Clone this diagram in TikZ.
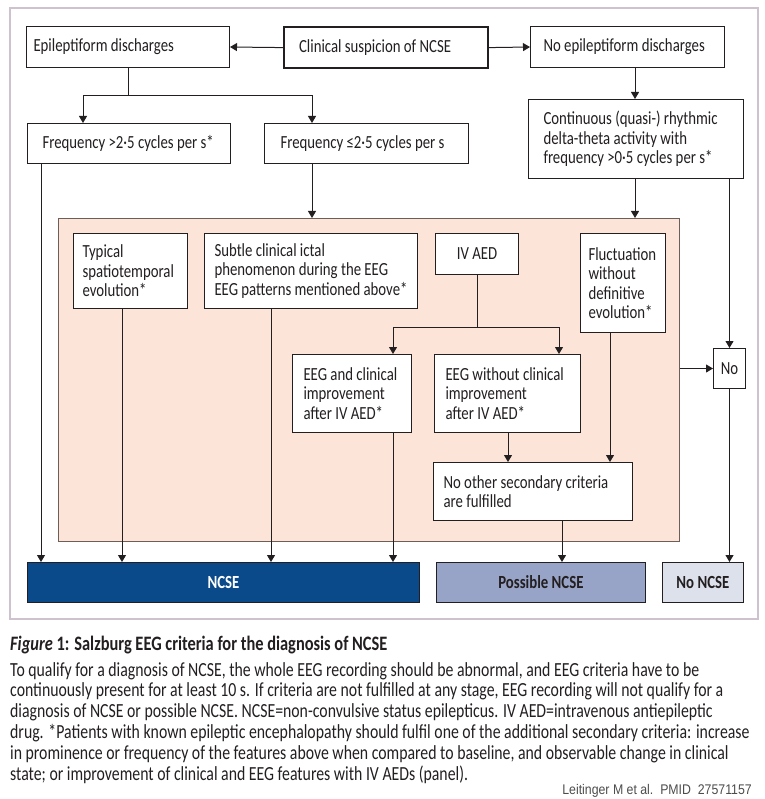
\documentclass[tikz,border=0pt]{standalone}
\usepackage{fontspec}
\setmainfont{Carlito}
\newfontfamily\boxfont{Carlito}[FakeStretch=0.80]
\newfontfamily\capfont{Carlito}[FakeStretch=0.80]
\newfontfamily\bodyfont{Carlito}[FakeStretch=0.79]
\newfontfamily\creditfont{Liberation Sans}[FakeStretch=0.88]
\usetikzlibrary{arrows.meta}
\definecolor{linecol}{HTML}{231F20}
\definecolor{panelfill}{HTML}{FCE5D8}
\definecolor{paneledge}{HTML}{6E5E58}
\definecolor{framecol}{HTML}{CDC2CD}
\definecolor{ncseblue}{HTML}{0A4A8A}
\definecolor{possblue}{HTML}{98A4C7}
\definecolor{noncgray}{HTML}{DCE1EC}
\begin{document}
\begin{tikzpicture}[x=1pt,y=-1pt,
    box/.style={draw=linecol,line width=1pt,fill=white,anchor=north west,align=flush left,
      inner ysep=0pt,text=linecol,font=\boxfont\fontsize{18.5pt}{19.5pt}\selectfont},
    result/.style={draw=linecol,line width=0.8pt,anchor=north west,align=center,
      inner sep=0pt,minimum height=40pt,font=\boxfont\bfseries\fontsize{18.5pt}{19.5pt}\selectfont},
    link/.style={draw=linecol,line width=1pt},
    arr/.style={link,-{Triangle[length=7pt,width=8pt]}}]
  \useasboundingbox (0,0) rectangle (764,799);
  % the frame and the shaded panel
  \draw[framecol,line width=1.5pt] (10,8) rectangle (758,619);
  \node[draw=paneledge,fill=panelfill,line width=1pt,anchor=north west,inner sep=0pt,
    minimum width=621pt,minimum height=323pt] (panel) at (58,218) {};
  %% top rows
  \node[box,inner xsep=7pt,text width=189pt,minimum height=41pt] (epi) at (26,26) {Epileptiform discharges};
  \node[box,line width=2.2pt,inner xsep=15pt,text width=174pt,minimum height=41pt] (susp) at (283,26) {Clinical suspicion of NCSE};
  \node[box,inner xsep=13pt,text width=168pt,minimum height=41pt] (noepi) at (530,26) {No epileptiform discharges};
  \node[box,inner xsep=15pt,text width=173pt,minimum height=40pt] (fhi) at (27,123) {Frequency >2·5 cycles per s*};
  \node[box,inner xsep=16pt,text width=172pt,minimum height=40pt] (flo) at (264,123) {Frequency ≤2·5 cycles per s};
  \node[box,inner xsep=15pt,text width=185pt,minimum height=79pt] (cont) at (528,99)
    {Continuous (quasi-) rhythmic\\delta-theta activity with\\frequency >0·5 cycles per s*};
  %% inside the panel
  \node[box,inner xsep=9pt,text width=96pt,minimum height=75pt] (typ) at (73,233) {Typical\\spatiotemporal\\evolution*};
  \node[box,inner xsep=10pt,text width=193pt,minimum height=75pt] (sub) at (204,233)
    {Subtle clinical ictal\\phenomenon during the EEG\\EEG patterns mentioned above*};
  \node[box,align=center,inner xsep=0pt,minimum width=83pt,minimum height=41pt] (iv) at (435,233) {IV AED};
  \node[box,inner xsep=8pt,text width=69pt,minimum height=99pt] (fluc) at (580,233) {Fluctuation\\without\\definitive\\evolution*};
  \node[box,inner xsep=11pt,text width=97pt,minimum height=78pt] (eegc) at (292,354) {EEG and clinical\\improvement\\after IV AED*};
  \node[box,inner xsep=11pt,text width=124pt,minimum height=78pt] (eegw) at (434,354) {EEG without clinical\\improvement\\after IV AED*};
  \node[box,inner xsep=10pt,text width=179pt,minimum height=58pt] (noother) at (433,462) {No other secondary criteria\\are fulfilled};
  \node[box,align=center,inner xsep=0pt,minimum width=32pt,minimum height=40pt] (no) at (713,348) {No};
  %% results
  \node[result,fill=ncseblue,text=white,minimum width=392pt] (ncse) at (27,562) {NCSE};
  \node[result,fill=possblue,text=linecol,minimum width=209pt] (poss) at (436,562) {Possible NCSE};
  \node[result,fill=noncgray,text=linecol,minimum width=81pt] (nonc) at (662,562) {No NCSE};
  %% connectors
  \draw[arr] (susp.west) -- (epi.east);
  \draw[arr] (susp.east) -- (noepi.west);
  \coordinate (episplit) at ([yshift=-28pt]epi.south);
  \draw[link] (epi.south) -- (episplit);
  \draw[arr] (episplit) -| ([xshift=56pt]fhi.north west);
  \draw[arr] (episplit) -| ([xshift=48pt]flo.north west);
  \draw[arr] ([xshift=105pt]noepi.south west) -- ([xshift=107pt]cont.north west);
  \coordinate (fhiout) at ([xshift=14pt]fhi.south west);
  \draw[arr] (fhiout) -- (fhiout |- ncse.north);
  \coordinate (floout) at ([xshift=48pt]flo.south west);
  \draw[arr] (floout) -- (floout |- panel.north);
  \coordinate (contout) at ([xshift=107pt]cont.south west);
  \draw[arr] (contout) -- (contout |- panel.north);
  \draw[arr] (cont.south -| no.north) -- (no.north);
  \draw[arr] (no.west -| panel.east) -- (no.west);
  \draw[arr] (no.south) -- (no.south |- nonc.north);
  % inside the panel
  \coordinate (typout) at ([xshift=49pt]typ.south west);
  \draw[arr] (typout) -- (typout |- ncse.north);
  \coordinate (subout) at ([xshift=67pt]sub.south west);
  \draw[arr] (subout) -- (subout |- ncse.north);
  \coordinate (ivsplit) at ([yshift=-52pt]iv.south);
  \draw[link] (iv.south) -- (ivsplit);
  \draw[arr] (ivsplit) -| ([xshift=101pt]eegc.north west);
  \draw[arr] (ivsplit) -| ([xshift=125pt]eegw.north west);
  \coordinate (eegcout) at ([xshift=101pt]eegc.south west);
  \draw[arr] (eegcout) -- (eegcout |- ncse.north);
  \coordinate (eegwout) at ([xshift=74pt]eegw.south west);
  \draw[arr] (eegwout) -- (eegwout |- noother.north);
  \coordinate (flucout) at ([xshift=30pt]fluc.south west);
  \draw[arr] (flucout) -- (flucout |- noother.north);
  \coordinate (nootherout) at ([xshift=129pt]noother.south west);
  \draw[arr] (nootherout) -- (nootherout |- poss.north);
  %% caption
  \node[anchor=base west,inner sep=0pt,text=linecol,font=\capfont\bfseries\fontsize{20.5pt}{21pt}\selectfont] (title) at (10,650)
    {\textit{Figure} 1: Salzburg EEG criteria for the diagnosis of NCSE};
  \node[anchor=north west,inner sep=0pt,align=flush left,text=linecol,font=\bodyfont\fontsize{20pt}{20.8pt}\selectfont] (body) at (10,662)
    {To qualify for a diagnosis of NCSE, the whole EEG recording should be abnormal, and EEG criteria have to be\\
     continuously present for at least 10 s. If criteria are not fulfilled at any stage, EEG recording will not qualify for a\\
     diagnosis of NCSE or possible NCSE. NCSE=non-convulsive status epilepticus. IV AED=intravenous antiepileptic\\
     drug. *Patients with known epileptic encephalopathy should fulfil one of the additional secondary criteria: increase\\
     in prominence or frequency of the features above when compared to baseline, and observable change in clinical\\
     state; or improvement of clinical and EEG features with IV AEDs (panel).};
  \node[anchor=base east,inner sep=0pt,text=black!70,font=\creditfont\fontsize{14pt}{16pt}\selectfont] (credit) at (752,794)
    {Leitinger M et al.\ \ PMID\ \ 27571157};
\end{tikzpicture}
\end{document}
